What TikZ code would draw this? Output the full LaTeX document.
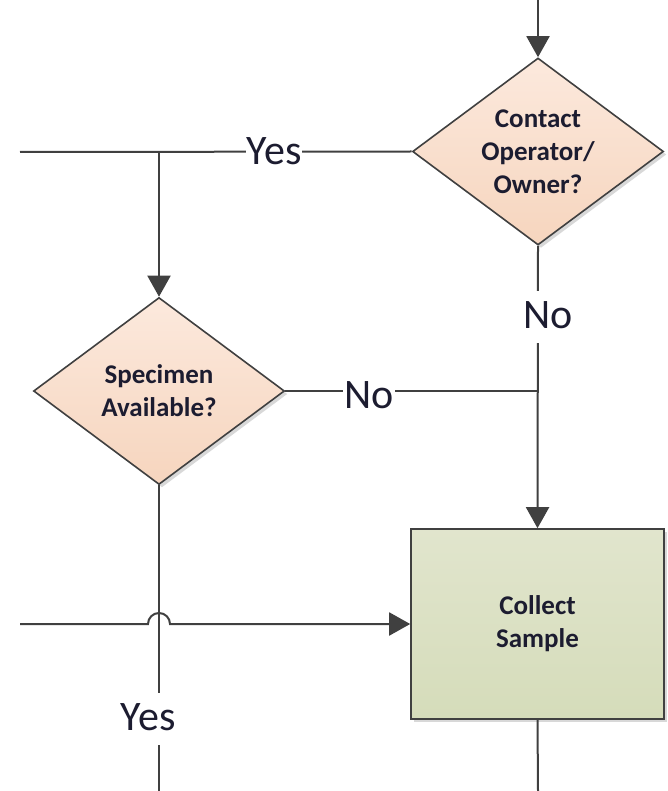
\documentclass[tikz,border=0pt]{standalone}
\usepackage{fontspec}
\setmainfont{Carlito}
\usetikzlibrary{arrows.meta,shapes.geometric,shadows}

\definecolor{lineclr}{RGB}{64,64,64}
\definecolor{txtclr}{RGB}{28,28,48}
\definecolor{decTop}{RGB}{252,233,221}
\definecolor{decBot}{RGB}{246,213,190}
\definecolor{boxTop}{RGB}{225,229,205}
\definecolor{boxBot}{RGB}{213,220,186}

\begin{document}
\begin{tikzpicture}[x=1pt,y=-1pt,
  flow/.style={draw=lineclr, line width=2pt},
  arrowtip/.style={-{Triangle[length=21pt,width=23pt]}},
  softshadow/.style={drop shadow={shadow xshift=3pt, shadow yshift=-3pt, fill=black!30, opacity=0.5}},
  decision/.style={diamond, draw=lineclr, line width=1.6pt, top color=decTop, bottom color=decBot,
    minimum width=251pt, minimum height=187pt, inner sep=0pt, softshadow},
  process/.style={rectangle, draw=lineclr, line width=1.6pt, top color=boxTop, bottom color=boxBot,
    minimum width=253pt, minimum height=190pt, inner sep=0pt, softshadow},
  intext/.style={align=center, text=txtclr, font=\fontsize{27}{33}\selectfont\bfseries},
  elabel/.style={fill=white, inner xsep=1pt, inner ysep=0pt, text height=37pt, text depth=15pt,
    anchor=base, text=txtclr, font=\fontsize{42}{50}\selectfont}
]
\useasboundingbox (0,0) rectangle (667,791);

% shapes
\node[decision, label={[intext]center:{Contact\\Operator/\\Owner?}}] (contact) at (538,151.5) {};
\node[decision, label={[intext]center:{Specimen\\Available?}}] (specimen) at (159,391) {};
\node[process, label={[intext]center:{Collect\\Sample}}] (collect) at (537.5,624) {};

% free ends and junctions
\coordinate (topIn) at (538,0);
\coordinate (yesIn) at (20,152);
\coordinate (sideIn) at (20,624);
\coordinate (leftOut) at (159,791);
\coordinate (rightOut) at (538,791);
\coordinate (jYes) at (specimen.north |- contact.west);
\coordinate (jNo) at (contact.south |- specimen.east);
\coordinate (hop) at (specimen.south |- collect.west);

% connectors
\draw[flow, arrowtip] (topIn) -- (contact.north);
\draw[flow] (contact.west) -- (yesIn);
\draw[flow, arrowtip] (jYes) -- (specimen.north);
\draw[flow, arrowtip] (contact.south) -- (collect.north);
\draw[flow] (specimen.east) -- (jNo);
\draw[flow] (specimen.south) -- (leftOut);
\draw[flow] (collect.south) -- (rightOut);
\draw[flow, arrowtip] (sideIn) -- ([xshift=-11pt]hop) arc[start angle=180, end angle=360, radius=11] -- (collect.west);

% branch labels
\node[elabel] (lblYesTop) at (274,165) {Yes};
\node[elabel] (lblNoRight) at (548,328) {No};
\node[elabel] (lblNoMid) at (369,408) {No};
\node[elabel] (lblYesLow) at (148,730) {Yes};
\end{tikzpicture}
\end{document}
